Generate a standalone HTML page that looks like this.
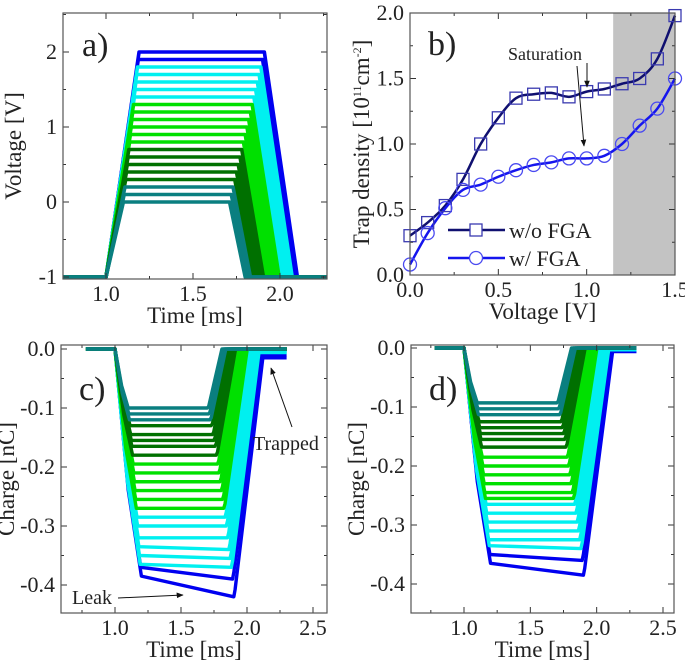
<!DOCTYPE html>
<html><head><meta charset="utf-8"><style>
body{margin:0;background:#fff}
svg text{font-family:"Liberation Serif",serif;fill:#222}
</style></head><body>
<svg id="fig" width="685" height="662" viewBox="0 0 685 662" xmlns="http://www.w3.org/2000/svg">
<defs><marker id="ah" viewBox="0 0 10 10" refX="9" refY="5" markerWidth="7" markerHeight="7" orient="auto"><path d="M0,1 L10,5 L0,9 z" fill="#111"/></marker></defs>
</svg>
<script>
// ---- data ----
const aLevels=[0,0.1,0.2,0.3,0.4,0.5,0.6,0.7,0.8,0.9,1.0,1.1,1.2,1.3,1.4,1.5,1.6,1.7,1.8,1.9,2.0];
const aColors=["#0a7f80","#0a7f80","#0a7f80","#007000","#007000","#007000","#007000","#007000","#00e000","#00e000","#00e000","#00e000","#00e000","#00e000","#00f0f0","#00f0f0","#00f0f0","#00f0f0","#00f0f0","#0000f0","#0000f0"];
const bV=[0,0.1,0.2,0.3,0.4,0.5,0.6,0.7,0.8,0.9,1.0,1.1,1.2,1.3,1.4,1.5];
const bNoFGA=[0.3,0.4,0.53,0.73,1.0,1.2,1.35,1.38,1.39,1.36,1.4,1.42,1.46,1.5,1.65,1.98];
const bFGA=[0.08,0.32,0.51,0.65,0.69,0.75,0.8,0.84,0.86,0.89,0.89,0.91,1.0,1.14,1.27,1.5];
const cStart=[-0.100,-0.110,-0.120,-0.130,-0.145,-0.155,-0.165,-0.180,-0.195,-0.210,-0.225,-0.240,-0.255,-0.270,-0.285,-0.300,-0.320,-0.335,-0.350,-0.365,-0.370,-0.385];
const cEnd=[-0.100,-0.110,-0.120,-0.130,-0.145,-0.155,-0.165,-0.180,-0.195,-0.210,-0.225,-0.240,-0.255,-0.270,-0.285,-0.300,-0.320,-0.340,-0.355,-0.370,-0.390,-0.420];
const cResid=[0,0,0,0,0,0,0,0,0,0,0,0,0,0,0,0,-0.003,-0.004,-0.005,-0.006,-0.01,-0.015];
const dStart=[-0.093,-0.103,-0.113,-0.125,-0.135,-0.145,-0.155,-0.168,-0.185,-0.200,-0.215,-0.230,-0.245,-0.255,-0.265,-0.280,-0.295,-0.310,-0.325,-0.335,-0.350,-0.365];
const dEnd=[-0.093,-0.103,-0.113,-0.125,-0.135,-0.145,-0.155,-0.168,-0.185,-0.200,-0.215,-0.230,-0.245,-0.255,-0.265,-0.280,-0.295,-0.310,-0.325,-0.340,-0.360,-0.385];
const dResid=[0,0,0,0,0,0,0,0,0,0,0,0,0,0,0,0,-0.002,-0.002,-0.003,-0.003,-0.004,-0.006];
const cdColors=["#0a7f80","#0a7f80","#0a7f80","#007000","#007000","#007000","#007000","#007000","#00e000","#00e000","#00e000","#00e000","#00e000","#00e000","#00f0f0","#00f0f0","#00f0f0","#00f0f0","#00f0f0","#00f0f0","#0000f0","#0000f0"];
const aYTicks=[-1,0,1,2], aXTicks=[1.0,1.5,2.0];
const bYTicks=[0,0.5,1.0,1.5,2.0], bXTicks=[0,0.5,1.0,1.5];
const cdYTicks=[0,-0.1,-0.2,-0.3,-0.4], cdXTicks=[1.0,1.5,2.0,2.5];

const NS="http://www.w3.org/2000/svg";
const svg=document.getElementById('fig');
function el(tag,attrs,parent,txt){const e=document.createElementNS(NS,tag);for(const k in attrs)e.setAttribute(k,attrs[k]);if(txt!==undefined)e.textContent=txt;(parent||svg).appendChild(e);return e;}
function scale(d0,d1,r0,r1){return v=>r0+(v-d0)*(r1-r0)/(d1-d0);}

function frame(g,box,xs,ys,xt,yt,xfmt,yfmt,xTitle,yTitle,ytx,tag){
  const tk=el('g',{},g);
  
  const xstep=(xt[1]-xt[0])/2, ystep=Math.abs(yt[1]-yt[0])/2;
  for(let v=xt[0]-4*xstep;v<=xt[xt.length-1]+4*xstep+1e-9;v+=xstep){const x=xs(v);if(x<box.x0+1||x>box.x1-1)continue;const L=Math.abs(Math.round((v-xt[0])/xstep))%2==0?6:3;
    el('line',{x1:x,x2:x,y1:box.y1,y2:box.y1-L,stroke:'#333','stroke-width':1},tk);el('line',{x1:x,x2:x,y1:box.y0,y2:box.y0+L,stroke:'#333','stroke-width':1},tk);}
  const ys0=Math.min(...yt)-4*ystep, ys1=Math.max(...yt)+4*ystep;
  for(let v=ys0;v<=ys1+1e-9;v+=ystep){const y=ys(v);if(y<box.y0+1||y>box.y1-1)continue;const L=Math.abs(Math.round((v-yt[0])/ystep))%2==0?6:3;
    el('line',{x1:box.x0,x2:box.x0+L,y1:y,y2:y,stroke:'#333','stroke-width':1},tk);el('line',{x1:box.x1,x2:box.x1-L,y1:y,y2:y,stroke:'#333','stroke-width':1},tk);}
  el('rect',{x:box.x0,y:box.y0,width:box.x1-box.x0,height:box.y1-box.y0,fill:'none',stroke:'#555','stroke-width':1.2},g);
  xt.forEach(v=>{const t=el('text',{x:xs(v),y:box.y1+22,'text-anchor':'middle','font-size':22},g,xfmt(v));});
  yt.forEach(v=>{const t=el('text',{x:box.x0-6,y:ys(v)+7,'text-anchor':'end','font-size':22},g,yfmt(v));});
  const xtit=el('text',{x:(box.x0+box.x1)/2,y:box.y1+44,'text-anchor':'middle','font-size':23},g,xTitle);
  
  const cy=(box.y0+box.y1)/2;
  const ytit=el('text',{x:ytx,y:cy,'text-anchor':'middle','font-size':23,transform:`rotate(-90 ${ytx} ${cy})`},g,'');
  ytit.innerHTML=yTitle;
  
}

// ---- Panel a ----
(function(){
  const box={x0:63,x1:327,y0:13,y1:279};
  const xs=scale(1.0,2.0,106,280), ys=scale(-1,2,277,52);
  const g=el('g',{});
  const cp=el('clipPath',{id:'ca'},g);el('rect',{x:box.x0,y:box.y0,width:box.x1-box.x0,height:box.y1-box.y0},cp);
  const sg=el('g',{'clip-path':'url(#ca)'},g);
  for(let i=aLevels.length-1;i>=0;i--){
    const V=aLevels[i], f=V/2;
    const pts=[[0.7,-1],[1.0,-1],[1.1+0.09*f,V],[1.71+0.2*f,V],[1.8+0.3*f,-1],[2.4,-1]];
    const p=el('polyline',{points:pts.map(q=>xs(q[0])+','+ys(q[1])).join(' '),fill:'none',stroke:aColors[i],'stroke-width':3.6,'stroke-linejoin':'round'},sg);
    
  }
  frame(g,box,xs,ys,aXTicks,aYTicks,v=>v.toFixed(1),v=>String(v),'Time [ms]','Voltage [V]',21,'a');
  const lb=el('text',{x:82,y:56,'font-size':34},g,'a)');
})();

// ---- Panel b ----
(function(){
  const box={x0:410,x1:675,y0:13,y1:275};
  const xs=scale(0,1.5,410,675), ys=scale(0,2,275,13);
  const g=el('g',{});
  const sh=el('rect',{x:xs(1.15),y:box.y0,width:box.x1-xs(1.15),height:box.y1-box.y0,fill:'#c3c3c3'},g);
  
  function smooth(X,Y){const P=X.map((x,i)=>[xs(x),ys(Y[i])]);let d='M'+P[0][0]+','+P[0][1];
    for(let i=0;i<P.length-1;i++){const p0=P[Math.max(0,i-1)],p1=P[i],p2=P[i+1],p3=P[Math.min(P.length-1,i+2)];
      d+=` C${p1[0]+(p2[0]-p0[0])/6},${p1[1]+(p2[1]-p0[1])/6} ${p2[0]-(p3[0]-p1[0])/6},${p2[1]-(p3[1]-p1[1])/6} ${p2[0]},${p2[1]}`;}return d;}
  const l1=el('path',{d:smooth(bV,bNoFGA),fill:'none',stroke:'#101070','stroke-width':2.5},g);
  
  const l2=el('path',{d:smooth(bV,bFGA),fill:'none',stroke:'#1515ee','stroke-width':2.5},g);
  
  bV.forEach((v,i)=>{const s=el('rect',{x:xs(v)-6,y:ys(bNoFGA[i])-6,width:12,height:12,fill:'none',stroke:'#3a3ab0','stroke-width':1.3},g);
    
    const c=el('circle',{cx:xs(v),cy:ys(bFGA[i]),r:6.5,fill:'none',stroke:'#4a4af0','stroke-width':1.3},g);
    });
  frame(g,box,xs,ys,bXTicks,bYTicks,v=>v.toFixed(1),v=>v.toFixed(1),'Voltage [V]','Trap density [10<tspan font-size="12" dy="-8">11</tspan><tspan dy="8">cm</tspan><tspan font-size="12" dy="-8">-2</tspan><tspan dy="8">]</tspan>',369,'b');
  const lb=el('text',{x:428,y:55,'font-size':34},g,'b)');
  const leg=el('g',{},g);
  el('line',{x1:448,x2:505,y1:230,y2:230,stroke:'#101070','stroke-width':2.5},leg);
  el('rect',{x:470,y:224,width:12,height:12,fill:'#fff',stroke:'#3a3ab0','stroke-width':1.3},leg);
  const t1=el('text',{x:509,y:238,'font-size':22},leg,'w/o FGA');
  el('line',{x1:448,x2:505,y1:258,y2:258,stroke:'#1515ee','stroke-width':2.5},leg);
  el('circle',{cx:476,cy:258,r:6.5,fill:'#fff',stroke:'#4a4af0','stroke-width':1.3},leg);
  const t2=el('text',{x:509,y:266,'font-size':22},leg,'w/ FGA');
  const sat=el('text',{x:508,y:60,'font-size':18},g,'Saturation');
  el('line',{x1:587,y1:63,x2:587,y2:87,stroke:'#111','stroke-width':1,'marker-end':'url(#ah)'},g);
  el('line',{x1:577,y1:66,x2:584,y2:146,stroke:'#111','stroke-width':1,'marker-end':'url(#ah)'},g);
})();

// ---- Panels c & d ----
function chargePanel(tag,box,x1px,x2px,y0px,y4px,S,E,R,label,annot){
  const xs=scale(1.0,2.5,x1px,x2px), ys=scale(0,-0.4,y0px,y4px);
  const g=el('g',{});
  const cp=el('clipPath',{id:'c'+tag},g);el('rect',{x:box.x0,y:box.y0,width:box.x1-box.x0,height:box.y1-box.y0},cp);
  const sg=el('g',{'clip-path':'url(#c'+tag+')'},g);
  const n=S.length;
  for(let i=n-1;i>=0;i--){const f=i/(n-1);
    const tf=1.1+0.1*f;
    const pts=[[0.78,0],[1.0,0],[1.0+(tf-1.0)*0.5,S[i]*0.62],[tf,S[i]],[1.7+0.2*f,E[i]],[1.71+0.2*f,E[i]*0.97],[1.81+0.31*f,R[i]],[2.3,R[i]]];
    const p=el('polyline',{points:pts.map(q=>xs(q[0])+','+ys(q[1])).join(' '),fill:'none',stroke:cdColors[i],'stroke-width':3.4,'stroke-linejoin':'round'},sg);
    }
  frame(g,box,xs,ys,cdXTicks,cdYTicks,v=>v.toFixed(1),v=>v.toFixed(1),'Time [ms]','Charge [nC]',box.x0-47,tag);
  const lb=el('text',{x:box.x0+18,y:box.y0+55,'font-size':34},g,label);
  if(annot){
    const t=el('text',{x:253,y:450,'font-size':20},g,'Trapped');
    el('line',{x1:292,y1:427,x2:271,y2:368,stroke:'#111','stroke-width':1,'marker-end':'url(#ah)'},g);
    const l=el('text',{x:72,y:604,'font-size':20},g,'Leak');
    el('line',{x1:118,y1:598,x2:183,y2:595,stroke:'#111','stroke-width':1,'marker-end':'url(#ah)'},g);
  }
}
chargePanel('c',{x0:61,x1:327,y0:345,y1:613},115,313,349,585,cStart,cEnd,cResid,'c)',true);
chargePanel('d',{x0:411,x1:674,y0:345,y1:613},464,663,348,584,dStart,dEnd,dResid,'d)',false);
</script>
</body></html>
